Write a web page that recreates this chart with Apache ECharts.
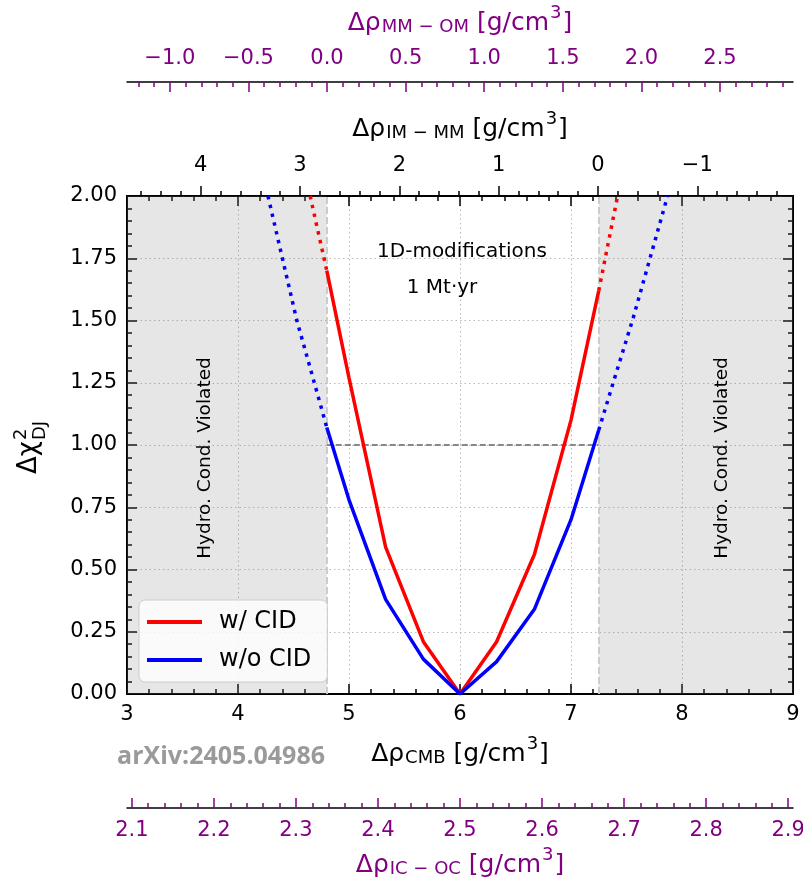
<!DOCTYPE html>
<html>
<head>
<meta charset="utf-8">
<script src="https://cdn.jsdelivr.net/npm/echarts@6/dist/echarts.min.js"></script>
<style>
  html, body { margin: 0; padding: 0; background: #ffffff; }
  #chart { width: 803px; height: 885px; }
</style>
</head>
<body>
<div id="chart"></div>
<script>
// ---- data ----------------------------------------------------------------
// Core–mantle boundary density jump (g/cm^3) and Δχ² for the two analyses
const cmbWithCID  = [4.65, 4.80, 5.00, 5.33, 5.67, 6.00, 6.33, 6.67, 7.00, 7.25, 7.42];
const chi2WithCID = [2.00, 1.70, 1.27, 0.59, 0.21, 0.00, 0.21, 0.56, 1.10, 1.62, 2.00];

const cmbNoCID  = [4.27, 4.40, 4.53, 4.65, 4.80, 5.00, 5.33, 5.67, 6.00, 6.33, 6.67, 7.00, 7.25, 7.38, 7.56, 7.87];
const chi2NoCID = [2.00, 1.75, 1.50, 1.31, 1.07, 0.78, 0.38, 0.14, 0.00, 0.13, 0.34, 0.70, 1.06, 1.25, 1.51, 2.00];

// hydrostatic-equilibrium limits on Δρ_CMB
const hydroLimits = [4.80, 7.25];
const chi2Ref = 1.0;

// axis ranges
const cmbRange  = [3, 9];
const chi2Range = [0, 2];

// tick labels of the secondary density axes
const imMmTicks = [4, 3, 2, 1, 0, -1];
const mmOmTicks = [-1.0, -0.5, 0.0, 0.5, 1.0, 1.5, 2.0, 2.5];
const icOcTicks = [2.1, 2.2, 2.3, 2.4, 2.5, 2.6, 2.7, 2.8, 2.9];

// linear relations between Δρ_CMB and the other density jumps
const IMMM_ZERO = 7.243, IMMM_SLOPE = -1.1177;
const MMOM_ZERO = 4.802, MMOM_SLOPE = 0.7061;
const ICOC_MID_CMB = 6.0, ICOC_MID = 2.5, ICOC_SLOPE = 0.1353;

// ---- helpers -------------------------------------------------------------
const FONT = 'DejaVu Sans';
const PURPLE = '#800080';

const imMm = c => IMMM_SLOPE * (c - IMMM_ZERO);
const mmOm = c => MMOM_SLOPE * (c - MMOM_ZERO);
const icOc = c => ICOC_MID + ICOC_SLOPE * (c - ICOC_MID_CMB);

function pairs(xs, ys) { return xs.map((x, i) => [x, ys[i]]); }
function part(xs, ys, lo, hi) {
  return pairs(xs, ys).filter(p => p[0] >= lo - 1e-9 && p[0] <= hi + 1e-9);
}
// minor tick values between major ticks
function minorValues(lo, hi, step, majorStep) {
  const out = [];
  const n0 = Math.ceil(lo / step - 1e-9), n1 = Math.floor(hi / step + 1e-9);
  const ratio = Math.round(majorStep / step);
  for (let k = n0; k <= n1; k++) {
    if (k % ratio !== 0) out.push(+(k * step).toFixed(4));
  }
  return out;
}
const signed = (v, d) => (v < 0 ? '\u2212' : '') + Math.abs(v).toFixed(d);

function richName(sub, color) {
  return {
    text: '{a|Δρ}{s|' + sub + '}{a| [g/cm}{p|3}{a|]}',
    style: {
      rich: {
        a: { fontFamily: FONT, fontSize: 25, color: color, verticalAlign: 'middle' },
        s: { fontFamily: FONT, fontSize: 18, color: color, verticalAlign: 'middle', padding: [9, 0, 0, 1] },
        p: { fontFamily: FONT, fontSize: 18, color: color, verticalAlign: 'middle', padding: [0, 1, 20, 1] }
      }
    }
  };
}

const nameCMB  = richName('CMB', '#000');
const nameIMMM = richName('IM \u2212 MM', '#000');
const nameMMOM = richName('MM \u2212 OM', PURPLE);
const nameICOC = richName('IC \u2212 OC', PURPLE);

const tickStyle = { color: '#000', width: 1.5 };
const gridLine = { show: true, lineStyle: { color: '#b8b8b8', width: 1, type: [1.5, 3] } };

const [cLo, cHi] = cmbRange;

// ---- chart ---------------------------------------------------------------
const chart = echarts.init(document.getElementById('chart'), null, { renderer: 'canvas' });

const xAxes = [
  // Δρ_CMB, bottom
  {
    type: 'value', min: cLo, max: cHi, interval: 1, position: 'bottom',
    axisLine: { show: true, onZero: false, lineStyle: { color: '#000', width: 2 } },
    axisTick: { show: true, inside: true, length: 10, lineStyle: tickStyle },
    minorTick: { show: true, splitNumber: 5, length: 5, lineStyle: tickStyle },
    axisLabel: { fontFamily: FONT, fontSize: 21, color: '#000', margin: 10 },
    splitLine: gridLine,
    name: nameCMB.text, nameLocation: 'middle', nameGap: 41,
    nameTextStyle: nameCMB.style
  },
  // Δρ_CMB mirror ticks, top
  {
    type: 'value', min: cLo, max: cHi, interval: 1, position: 'top',
    axisLine: { show: true, onZero: false, lineStyle: { color: '#000', width: 2 } },
    axisTick: { show: true, inside: true, length: 10, lineStyle: tickStyle },
    minorTick: { show: true, splitNumber: 5, length: 5, lineStyle: tickStyle },
    axisLabel: { show: false }, splitLine: { show: false }
  },
  // Δρ_IM-MM, top
  {
    type: 'value', min: imMm(cHi), max: imMm(cLo), inverse: true, position: 'top', offset: 0,
    axisLine: { show: false, onZero: false },
    axisTick: { show: true, inside: false, length: 10, lineStyle: tickStyle, customValues: imMmTicks },
    axisLabel: { customValues: imMmTicks, formatter: v => signed(v, 0), fontFamily: FONT, fontSize: 21, color: '#000', margin: 20 },
    splitLine: { show: false },
    name: nameIMMM.text, nameLocation: 'middle', nameGap: 48,
    nameTextStyle: nameIMMM.style
  },
  {
    type: 'value', min: imMm(cHi), max: imMm(cLo), inverse: true, position: 'top', offset: 0,
    axisLine: { show: false, onZero: false },
    axisTick: { show: true, inside: false, length: 5, lineStyle: tickStyle,
                customValues: minorValues(imMm(cHi), imMm(cLo), 0.2, 1) },
    axisLabel: { show: false }, splitLine: { show: false }
  },
  // Δρ_MM-OM, detached top axis
  {
    type: 'value', min: mmOm(cLo), max: mmOm(cHi), position: 'top', offset: 114,
    axisLine: { show: true, onZero: false, lineStyle: { color: '#000', width: 1.5 } },
    axisTick: { show: true, inside: true, length: 10, lineStyle: { color: PURPLE, width: 1.5 }, customValues: mmOmTicks },
    axisLabel: { customValues: mmOmTicks, formatter: v => signed(v, 1), fontFamily: FONT, fontSize: 21, color: PURPLE, margin: 13 },
    splitLine: { show: false },
    name: nameMMOM.text, nameLocation: 'middle', nameGap: 40,
    nameTextStyle: nameMMOM.style
  },
  {
    type: 'value', min: mmOm(cLo), max: mmOm(cHi), position: 'top', offset: 114,
    axisLine: { show: false, onZero: false },
    axisTick: { show: true, inside: true, length: 5, lineStyle: { color: PURPLE, width: 1.5 },
                customValues: minorValues(mmOm(cLo), mmOm(cHi), 0.1, 0.5) },
    axisLabel: { show: false }, splitLine: { show: false }
  },
  // Δρ_IC-OC, detached bottom axis
  {
    type: 'value', min: icOc(cLo), max: icOc(cHi), position: 'bottom', offset: 114,
    axisLine: { show: true, onZero: false, lineStyle: { color: '#000', width: 1.5 } },
    axisTick: { show: true, inside: true, length: 10, lineStyle: { color: PURPLE, width: 1.5 }, customValues: icOcTicks },
    axisLabel: { customValues: icOcTicks, formatter: v => v.toFixed(1), fontFamily: FONT, fontSize: 21, color: PURPLE, margin: 12 },
    splitLine: { show: false },
    name: nameICOC.text, nameLocation: 'middle', nameGap: 38,
    nameTextStyle: nameICOC.style
  },
  {
    type: 'value', min: icOc(cLo), max: icOc(cHi), position: 'bottom', offset: 114,
    axisLine: { show: false, onZero: false },
    axisTick: { show: true, inside: true, length: 5, lineStyle: { color: PURPLE, width: 1.5 },
                customValues: minorValues(icOc(cLo), icOc(cHi), 0.02, 0.1) },
    axisLabel: { show: false }, splitLine: { show: false }
  }
];

const yAxes = [
  {
    type: 'value', min: chi2Range[0], max: chi2Range[1], interval: 0.25, position: 'left',
    axisLine: { show: true, onZero: false, lineStyle: { color: '#000', width: 2 } },
    axisTick: { show: true, inside: true, length: 10, lineStyle: tickStyle },
    minorTick: { show: true, splitNumber: 5, length: 5, lineStyle: tickStyle },
    axisLabel: { formatter: v => v.toFixed(2), fontFamily: FONT, fontSize: 21, color: '#000', margin: 10 },
    splitLine: gridLine
  },
  {
    type: 'value', min: chi2Range[0], max: chi2Range[1], interval: 0.25, position: 'right',
    axisLine: { show: true, onZero: false, lineStyle: { color: '#000', width: 2 } },
    axisTick: { show: true, inside: true, length: 10, lineStyle: tickStyle },
    minorTick: { show: true, splitNumber: 5, length: 5, lineStyle: tickStyle },
    axisLabel: { show: false }, splitLine: { show: false }
  }
];

const RED = '#ff0000', BLUE = '#0000ff';
const LW = 3.5;
const DOTS = [3.5, 5.5];

function lineSeries(name, color, data, dotted, extra) {
  return Object.assign({
    name: name, type: 'line', xAxisIndex: 0, yAxisIndex: 0,
    data: data, symbol: 'none', smooth: false, silent: true, animation: false,
    color: color,
    lineStyle: { color: color, width: LW, type: dotted ? DOTS : 'solid', cap: 'butt' },
    z: 3
  }, extra || {});
}

const [hLo, hHi] = hydroLimits;

const series = [
  lineSeries('w/ CID', RED, part(cmbWithCID, chi2WithCID, hLo, hHi), false, {
    markArea: {
      silent: true, z: 1,
      itemStyle: { color: 'rgba(128,128,128,0.2)' },
      data: [[{ xAxis: cLo }, { xAxis: hLo }], [{ xAxis: hHi }, { xAxis: cHi }]]
    },
    markLine: {
      silent: true, z: 1, symbol: 'none', animation: false,
      label: { show: false },
      data: [
        { xAxis: hLo, lineStyle: { color: '#cccccc', width: 2, type: [7, 3] } },
        { xAxis: hHi, lineStyle: { color: '#cccccc', width: 2, type: [7, 3] } },
        [{ coord: [hLo, chi2Ref], lineStyle: { color: '#888888', width: 1.8, type: [6, 3] } },
         { coord: [hHi, chi2Ref] }]
      ]
    }
  }),
  lineSeries('w/o CID', BLUE, part(cmbNoCID, chi2NoCID, hLo, hHi), false),
  lineSeries('w/ CID', RED, part(cmbWithCID, chi2WithCID, cLo, hLo), true),
  lineSeries('w/ CID', RED, part(cmbWithCID, chi2WithCID, hHi, cHi), true),
  lineSeries('w/o CID', BLUE, part(cmbNoCID, chi2NoCID, cLo, hLo), true),
  lineSeries('w/o CID', BLUE, part(cmbNoCID, chi2NoCID, hHi, cHi), true)
];

const textFont = (size, weight, family) => (weight ? weight + ' ' : '') + size + 'px "' + (family || FONT) + '"';

const graphics = [
  { type: 'text', x: 462, y: 252, z: 10, silent: true,
    style: { text: '1D-modifications', font: textFont(20), fill: '#000', align: 'center', verticalAlign: 'middle' } },
  { type: 'text', x: 442, y: 288, z: 10, silent: true,
    style: { text: '1 Mt\u00b7yr', font: textFont(20), fill: '#000', align: 'center', verticalAlign: 'middle' } },
  { type: 'text', x: 205, y: 458, rotation: Math.PI / 2, z: 10, silent: true,
    style: { text: 'Hydro. Cond. Violated', font: textFont(18.5), fill: '#000', align: 'center', verticalAlign: 'middle' } },
  { type: 'text', x: 722, y: 458, rotation: Math.PI / 2, z: 10, silent: true,
    style: { text: 'Hydro. Cond. Violated', font: textFont(18.5), fill: '#000', align: 'center', verticalAlign: 'middle' } },
  { type: 'text', x: 325, y: 757, z: 10, silent: true,
    style: { text: 'arXiv:2405.04986', font: textFont(25, 'bold', 'Open Sans'), fill: '#9a9a9a', align: 'right', verticalAlign: 'middle' } },
  // y-axis title Δχ²_DJ, written bottom-to-top
  { type: 'group', x: 30, y: 446, rotation: Math.PI / 2, silent: true, z: 10,
    children: [
      { type: 'text', x: -28, y: -1, style: { text: 'Δχ', font: textFont(26), fill: '#000', align: 'left', verticalAlign: 'middle' } },
      { type: 'text', x: 6, y: -9, style: { text: '2', font: textFont(18), fill: '#000', align: 'left', verticalAlign: 'middle' } },
      { type: 'text', x: 6, y: 10, style: { text: 'DJ', font: textFont(18), fill: '#000', align: 'left', verticalAlign: 'middle' } }
    ] }
];

chart.setOption({
  animation: false,
  backgroundColor: '#ffffff',
  grid: { left: 127, right: 10, top: 196, bottom: 191, containLabel: false, outerBoundsMode: 'none' },
  xAxis: xAxes,
  yAxis: yAxes,
  legend: {
    show: true, orient: 'vertical', left: 139, top: 600,
    icon: 'rect', itemWidth: 55, itemHeight: 4, itemGap: 14,
    padding: [10, 16, 10, 8],
    backgroundColor: 'rgba(255,255,255,0.8)', borderColor: '#cccccc', borderWidth: 1, borderRadius: 6,
    textStyle: { fontFamily: FONT, fontSize: 24, color: '#000', padding: [0, 0, 0, 12] },
    selectedMode: false,
    data: [
      { name: 'w/ CID', itemStyle: { color: RED } },
      { name: 'w/o CID', itemStyle: { color: BLUE } }
    ]
  },
  series: series,
  graphic: graphics
});
</script>
</body>
</html>
